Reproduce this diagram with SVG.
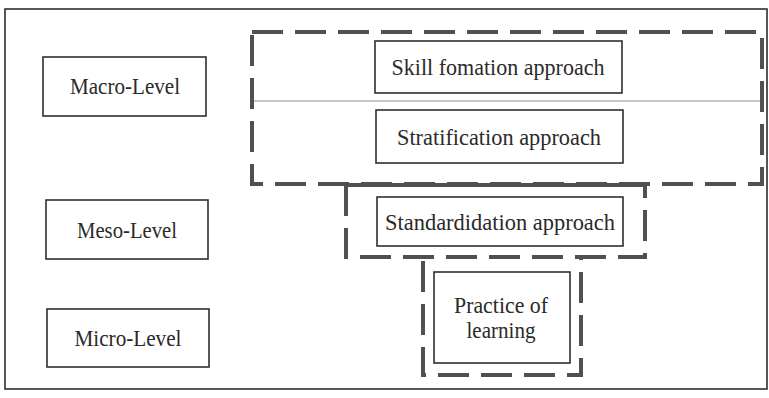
<svg xmlns="http://www.w3.org/2000/svg" width="769" height="398" viewBox="0 0 769 398">
  <style>
    .frame { fill: none; stroke: #2e2e2e; stroke-width: 1.6; }
    .box { fill: #ffffff; stroke: #2e2e2e; stroke-width: 1.6; }
    .group { fill: none; stroke: #505050; stroke-width: 4; stroke-dasharray: 31 12; }
    .solid { fill: none; stroke: #505050; stroke-width: 4; }
    .divider { stroke: #b4b4b4; stroke-width: 1.6; }
    text { font-family: "Liberation Serif", "DejaVu Serif", serif; font-size: 23px; fill: #2a2a2a; text-anchor: middle; }
  </style>
  <rect x="0" y="0" width="769" height="398" fill="#ffffff"/>
  <rect class="frame" x="5" y="9" width="762" height="380"/>

  <!-- level labels -->
  <g id="macro-level">
    <rect class="box" x="43" y="57" width="163" height="59"/>
    <text x="125" y="94" textLength="110" lengthAdjust="spacingAndGlyphs">Macro-Level</text>
  </g>
  <g id="meso-level">
    <rect class="box" x="46" y="200" width="162" height="59"/>
    <text x="127" y="238" textLength="100" lengthAdjust="spacingAndGlyphs">Meso-Level</text>
  </g>
  <g id="micro-level">
    <rect class="box" x="47" y="309" width="162" height="58"/>
    <text x="128" y="346" textLength="107" lengthAdjust="spacingAndGlyphs">Micro-Level</text>
  </g>

  <!-- dashed groupings per level -->
  <g id="connectors">
    <rect class="group" x="252" y="32" width="510" height="152"/>
    <line class="divider" x1="254" y1="101" x2="760" y2="101"/>
    <path class="group" d="M346 185 V257 H645 V185"/>
    <line class="solid" x1="344" y1="185" x2="647" y2="185"/>
    <path class="group" d="M423 261 V375 H581 V257"/>
  </g>

  <!-- approaches -->
  <g id="skill-formation">
    <rect class="box" x="375" y="41" width="247" height="52"/>
    <text x="498" y="75" textLength="213" lengthAdjust="spacingAndGlyphs">Skill fomation approach</text>
  </g>
  <g id="stratification">
    <rect class="box" x="376" y="110" width="247" height="53"/>
    <text x="499" y="145" textLength="204" lengthAdjust="spacingAndGlyphs">Stratification approach</text>
  </g>
  <g id="standardidation">
    <rect class="box" x="377" y="197" width="246" height="49"/>
    <text x="500" y="230" textLength="230" lengthAdjust="spacingAndGlyphs">Standardidation approach</text>
  </g>
  <g id="practice-of-learning">
    <rect class="box" x="434" y="272" width="136" height="91"/>
    <text x="501" y="313" textLength="94" lengthAdjust="spacingAndGlyphs">Practice of</text>
    <text x="501" y="338" textLength="69" lengthAdjust="spacingAndGlyphs">learning</text>
  </g>
</svg>
